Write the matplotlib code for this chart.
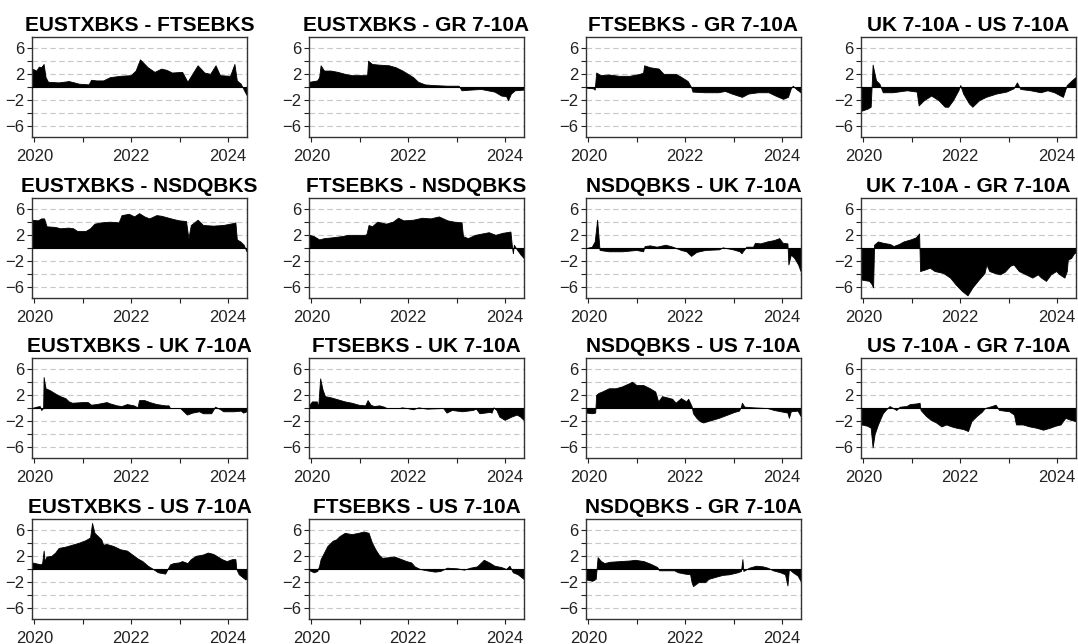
import matplotlib
matplotlib.use("Agg")
import matplotlib.pyplot as plt
import numpy as np

plt.rcParams['font.family'] = ['Liberation Sans', 'DejaVu Sans']

# spread series: (decimal year, value)
eustx_ftse = [(2019.95, 2.8), (2020.04, 2.5), (2020.09, 3.1), (2020.14, 3.0), (2020.19, 3.5), (2020.23, 1.5),
              (2020.28, 0.8), (2020.5, 0.7), (2020.71, 0.9), (2020.82, 0.7), (2020.92, 0.5), (2021.12, 0.4),
              (2021.17, 1.1), (2021.28, 1.0), (2021.42, 1.0), (2021.56, 1.5), (2021.77, 1.7), (2021.99, 1.8),
              (2022.09, 2.5), (2022.18, 4.2), (2022.34, 3.0), (2022.48, 2.3), (2022.62, 2.8), (2022.73, 2.6),
              (2022.84, 2.2), (2023.05, 2.3), (2023.16, 0.8), (2023.26, 2.0), (2023.37, 3.3), (2023.51, 2.2),
              (2023.63, 2.0), (2023.74, 3.3), (2023.83, 1.8), (2024.04, 1.7), (2024.13, 3.5), (2024.18, 1.0),
              (2024.26, 0.5), (2024.33, -0.5), (2024.38, -1.2)]
eustx_gr = [(2019.96, 0.8), (2020.12, 1.0), (2020.16, 1.5), (2020.19, 3.3), (2020.26, 2.5), (2020.4, 2.5),
            (2020.54, 2.3), (2020.69, 2.0), (2020.83, 1.8), (2020.97, 1.8), (2021.15, 1.8), (2021.17, 4.0),
            (2021.25, 3.5), (2021.39, 3.4), (2021.6, 3.3), (2021.74, 3.0), (2021.88, 2.5), (2021.99, 2.0),
            (2022.1, 1.5), (2022.2, 0.8), (2022.34, 0.4), (2022.5, 0.3), (2022.8, 0.2), (2023.04, 0.2),
            (2023.1, -0.5), (2023.28, -0.4), (2023.5, -0.3), (2023.64, -0.5), (2023.78, -0.7), (2023.92, -1.3),
            (2024.02, -1.4), (2024.06, -2.0), (2024.12, -1.0), (2024.2, -0.5), (2024.38, -0.4)]
ftse_gr = [(2019.95, -0.1), (2020.1, -0.2), (2020.13, -0.4), (2020.16, 2.2), (2020.25, 1.8), (2020.42, 1.9),
           (2020.63, 1.7), (2020.85, 1.7), (2021.06, 2.0), (2021.13, 2.2), (2021.15, 3.3), (2021.27, 3.0),
           (2021.45, 2.8), (2021.55, 2.0), (2021.8, 2.0), (2021.9, 1.6), (2022.05, 0.9), (2022.12, 0.0),
           (2022.15, -0.7), (2022.4, -0.8), (2022.68, -0.8), (2022.82, -0.6), (2022.96, -1.0), (2023.17, -1.5),
           (2023.3, -1.0), (2023.5, -0.8), (2023.72, -0.8), (2023.86, -1.3), (2024.02, -1.8), (2024.12, -1.5),
           (2024.18, -0.2), (2024.22, 0.2), (2024.29, -0.3), (2024.38, -0.8)]
uk_us = [(2019.96, -3.6), (2020.08, -3.3), (2020.15, -3.0), (2020.19, 3.4), (2020.26, 1.0), (2020.33, 0.5),
         (2020.4, -0.8), (2020.6, -0.8), (2020.9, -0.5), (2021.1, -0.7), (2021.14, -2.8), (2021.25, -2.0),
         (2021.4, -1.3), (2021.55, -2.0), (2021.68, -3.0), (2021.75, -3.0), (2021.85, -2.0), (2021.96, -0.5),
         (2022.0, 0.3), (2022.06, -1.0), (2022.18, -2.5), (2022.25, -3.0), (2022.39, -2.0), (2022.53, -1.5),
         (2022.74, -1.0), (2022.95, -0.7), (2023.1, -0.2), (2023.17, 0.7), (2023.24, -0.3), (2023.45, -0.5),
         (2023.66, -0.8), (2023.8, -0.5), (2023.94, -0.8), (2024.12, -1.5), (2024.2, 0.3), (2024.3, 1.0),
         (2024.38, 1.5)]
eustx_nsdq = [(2019.95, 4.3), (2020.07, 4.2), (2020.14, 4.5), (2020.2, 4.5), (2020.25, 3.3), (2020.43, 3.2),
              (2020.53, 3.0), (2020.7, 3.1), (2020.8, 3.0), (2020.88, 2.6), (2021.06, 2.6), (2021.15, 3.0),
              (2021.24, 3.7), (2021.38, 3.9), (2021.56, 4.0), (2021.74, 3.9), (2021.8, 5.0), (2021.95, 5.2),
              (2022.06, 4.8), (2022.16, 5.3), (2022.27, 4.8), (2022.37, 4.5), (2022.52, 5.0), (2022.62, 4.9),
              (2022.77, 4.6), (2022.87, 4.4), (2022.99, 4.2), (2023.13, 4.1), (2023.18, 1.5), (2023.23, 3.5),
              (2023.37, 4.3), (2023.48, 3.5), (2023.69, 3.4), (2023.9, 3.5), (2024.11, 3.8), (2024.15, 3.9),
              (2024.18, 1.3), (2024.25, 1.0), (2024.32, 0.5), (2024.38, -0.5)]
ftse_nsdq = [(2019.96, 2.0), (2020.05, 1.8), (2020.16, 1.3), (2020.26, 1.5), (2020.4, 1.6), (2020.62, 1.8),
             (2020.76, 2.0), (2021.11, 2.0), (2021.14, 2.2), (2021.18, 3.5), (2021.25, 3.3), (2021.36, 4.0),
             (2021.54, 3.7), (2021.68, 4.0), (2021.79, 4.6), (2021.9, 4.2), (2022.1, 4.3), (2022.28, 4.6),
             (2022.46, 4.5), (2022.63, 4.8), (2022.81, 4.2), (2022.95, 4.0), (2023.1, 3.9), (2023.13, 1.8),
             (2023.23, 1.5), (2023.38, 2.0), (2023.52, 2.2), (2023.66, 2.4), (2023.8, 2.0), (2023.94, 2.3),
             (2024.11, 2.5), (2024.14, 0.3), (2024.16, -0.8), (2024.18, 0.5), (2024.25, -0.3), (2024.32, -1.0),
             (2024.38, -1.5)]
nsdq_uk = [(2019.96, 0.0), (2020.07, 0.2), (2020.13, 1.0), (2020.18, 4.3), (2020.23, -0.3), (2020.42, -0.5),
           (2020.7, -0.5), (2020.99, -0.3), (2021.13, -0.5), (2021.16, 0.3), (2021.27, 0.4), (2021.41, 0.2),
           (2021.59, 0.5), (2021.74, 0.2), (2021.91, -0.3), (2022.02, -0.5), (2022.12, -1.2), (2022.23, -0.6),
           (2022.41, -0.3), (2022.7, -0.2), (2022.77, 0.1), (2022.98, -0.2), (2023.12, -0.5), (2023.16, -0.8),
           (2023.26, 0.2), (2023.4, 0.2), (2023.44, 0.8), (2023.55, 0.7), (2023.69, 1.0), (2023.83, 1.2),
           (2023.94, 1.5), (2024.01, 0.8), (2024.11, 0.7), (2024.13, -2.5), (2024.18, -1.0), (2024.25, -1.5),
           (2024.33, -2.5), (2024.38, -3.5)]
uk_gr = [(2019.96, -4.8), (2020.12, -5.0), (2020.17, -5.5), (2020.2, -6.0), (2020.22, 0.5), (2020.3, 1.0),
         (2020.4, 0.8), (2020.55, 0.6), (2020.62, 0.3), (2020.73, 0.6), (2020.83, 1.0), (2020.97, 1.3),
         (2021.08, 1.6), (2021.15, 2.2), (2021.17, -3.5), (2021.26, -3.3), (2021.37, -3.0), (2021.47, -3.5),
         (2021.65, -3.8), (2021.79, -4.5), (2021.9, -5.5), (2022.03, -6.5), (2022.15, -7.2), (2022.25, -6.0),
         (2022.36, -5.0), (2022.5, -3.8), (2022.54, -2.5), (2022.6, -3.5), (2022.71, -3.8), (2022.82, -4.0),
         (2022.92, -3.6), (2023.03, -2.7), (2023.1, -2.5), (2023.21, -3.5), (2023.35, -4.0), (2023.49, -4.5),
         (2023.6, -4.0), (2023.67, -4.5), (2023.77, -5.0), (2023.87, -4.0), (2023.98, -3.5), (2024.05, -4.0),
         (2024.15, -4.5), (2024.2, -3.5), (2024.22, -1.8), (2024.29, -1.5), (2024.35, -0.8), (2024.38, -0.7)]
eustx_uk = [(2019.95, 0.0), (2020.04, 0.2), (2020.11, 0.3), (2020.14, -0.3), (2020.18, 0.0), (2020.19, 4.7),
            (2020.23, 3.0), (2020.32, 2.7), (2020.43, 2.2), (2020.53, 1.8), (2020.64, 1.5), (2020.71, 1.0),
            (2020.78, 0.8), (2020.99, 0.9), (2021.1, 0.9), (2021.17, 0.5), (2021.28, 0.6), (2021.49, 0.9),
            (2021.56, 0.7), (2021.7, 0.4), (2021.8, 0.3), (2021.91, 0.6), (2022.05, 0.4), (2022.13, 0.1),
            (2022.16, 1.2), (2022.27, 1.2), (2022.38, 0.9), (2022.52, 0.6), (2022.7, 0.4), (2022.77, 0.4),
            (2022.8, 0.0), (2023.01, 0.0), (2023.05, -0.3), (2023.15, -1.0), (2023.26, -0.7), (2023.4, -0.5),
            (2023.48, -0.8), (2023.65, -0.8), (2023.69, -0.3), (2023.73, 0.2), (2023.84, -0.2), (2023.9, -0.5),
            (2024.11, -0.5), (2024.26, -0.4), (2024.31, -0.7), (2024.38, -0.5)]
ftse_uk = [(2019.96, 0.5), (2020.01, 1.0), (2020.11, 1.0), (2020.14, 0.2), (2020.18, 4.5), (2020.23, 2.8),
           (2020.28, 1.8), (2020.41, 1.6), (2020.55, 1.3), (2020.69, 1.0), (2020.83, 0.8), (2020.97, 0.5),
           (2021.11, 0.4), (2021.16, 1.2), (2021.22, 0.5), (2021.29, 0.3), (2021.4, 0.4), (2021.5, 0.2),
           (2021.55, 0.0), (2021.83, 0.0), (2021.86, 0.1), (2021.97, 0.0), (2022.1, -0.2), (2022.21, 0.1),
           (2022.38, -0.1), (2022.72, 0.0), (2022.79, -0.7), (2022.9, -0.3), (2023.11, -0.5), (2023.33, -0.3),
           (2023.4, -0.1), (2023.47, -0.8), (2023.68, -0.6), (2023.72, -0.7), (2023.76, 0.1), (2023.82, -0.3),
           (2023.88, -1.3), (2023.99, -1.8), (2024.13, -1.3), (2024.24, -1.0), (2024.31, -1.3), (2024.38, -1.8)]
nsdq_us = [(2019.96, -0.7), (2020.07, -0.8), (2020.14, -0.7), (2020.16, 2.0), (2020.21, 2.3), (2020.28, 2.5),
           (2020.42, 3.0), (2020.56, 3.0), (2020.7, 3.3), (2020.85, 3.8), (2020.9, 4.0), (2020.99, 3.5),
           (2021.13, 3.5), (2021.27, 3.0), (2021.38, 2.5), (2021.44, 1.0), (2021.52, 1.8), (2021.63, 1.6),
           (2021.73, 1.4), (2021.8, 0.8), (2021.91, 1.5), (2022.02, 1.0), (2022.06, 1.4), (2022.13, 0.3),
           (2022.16, -0.8), (2022.23, -1.5), (2022.3, -2.0), (2022.37, -2.2), (2022.55, -1.8), (2022.69, -1.5),
           (2022.87, -1.0), (2023.01, -0.6), (2023.11, -0.4), (2023.15, 0.2), (2023.17, 0.8), (2023.22, 0.2),
           (2023.4, 0.1), (2023.69, 0.0), (2023.83, -0.3), (2023.97, -0.5), (2024.11, -0.7), (2024.14, -1.5),
           (2024.18, -0.5), (2024.32, -0.4), (2024.38, -1.2)]
us_gr = [(2019.96, -2.5), (2020.08, -2.7), (2020.15, -3.0), (2020.19, -6.0), (2020.23, -4.0), (2020.3, -2.5),
         (2020.37, -1.3), (2020.4, -0.8), (2020.47, -0.2), (2020.54, 0.3), (2020.61, 0.0), (2020.68, -0.3),
         (2020.75, 0.2), (2020.89, 0.3), (2020.96, 0.6), (2021.1, 0.7), (2021.16, 0.8), (2021.18, -0.3),
         (2021.29, -1.2), (2021.39, -1.8), (2021.5, -2.2), (2021.61, -2.8), (2021.71, -2.5), (2021.82, -2.8),
         (2021.92, -3.0), (2022.06, -3.2), (2022.16, -3.5), (2022.23, -2.0), (2022.34, -1.2), (2022.44, -0.6),
         (2022.51, 0.0), (2022.65, 0.3), (2022.73, 0.5), (2022.8, -0.3), (2023.01, -0.5), (2023.11, -1.0),
         (2023.15, -2.5), (2023.29, -2.5), (2023.43, -2.8), (2023.57, -3.0), (2023.71, -3.3), (2023.85, -3.0),
         (2023.96, -2.7), (2024.07, -2.5), (2024.17, -1.5), (2024.28, -1.8), (2024.38, -2.0)]
eustx_us = [(2019.95, 1.0), (2020.07, 0.8), (2020.13, 0.7), (2020.16, 0.9), (2020.19, 2.8), (2020.21, 1.2),
            (2020.25, 1.9), (2020.35, 2.0), (2020.43, 2.5), (2020.5, 3.2), (2020.64, 3.4), (2020.78, 3.7),
            (2020.92, 4.0), (2021.06, 4.4), (2021.15, 4.8), (2021.19, 7.0), (2021.24, 5.5), (2021.31, 5.0),
            (2021.38, 4.5), (2021.42, 3.7), (2021.49, 3.8), (2021.63, 3.5), (2021.77, 3.0), (2021.91, 2.8),
            (2022.02, 2.2), (2022.13, 1.6), (2022.23, 1.2), (2022.34, 0.5), (2022.45, 0.0), (2022.55, -0.5),
            (2022.7, -0.7), (2022.75, 0.0), (2022.8, 0.7), (2022.87, 0.9), (2022.98, 1.0), (2023.05, 1.2),
            (2023.16, 0.9), (2023.23, 1.5), (2023.33, 2.0), (2023.48, 2.2), (2023.58, 2.5), (2023.69, 2.3),
            (2023.76, 2.0), (2023.87, 1.5), (2023.97, 1.2), (2024.08, 1.5), (2024.15, 1.5), (2024.17, 0.0),
            (2024.22, -0.8), (2024.29, -1.2), (2024.36, -1.6), (2024.38, -1.4)]
ftse_us = [(2019.96, -0.2), (2020.05, -0.5), (2020.12, -0.3), (2020.16, 0.5), (2020.19, 1.5), (2020.26, 2.5),
           (2020.33, 3.5), (2020.44, 4.3), (2020.51, 4.5), (2020.58, 5.0), (2020.69, 5.5), (2020.83, 5.3),
           (2020.97, 5.5), (2021.08, 5.7), (2021.18, 5.5), (2021.25, 4.0), (2021.32, 3.0), (2021.39, 2.2),
           (2021.46, 1.7), (2021.6, 1.8), (2021.71, 1.9), (2021.82, 1.6), (2021.96, 1.2), (2022.06, 1.0),
           (2022.13, 0.4), (2022.24, 0.0), (2022.38, -0.2), (2022.55, -0.4), (2022.66, -0.3), (2022.8, 0.2),
           (2023.01, 0.1), (2023.15, -0.1), (2023.28, 0.2), (2023.42, 0.4), (2023.56, 1.4), (2023.67, 1.0),
           (2023.78, 0.5), (2023.92, 0.3), (2024.02, 0.0), (2024.09, 0.5), (2024.16, -0.5), (2024.26, -0.8),
           (2024.38, -1.5)]
nsdq_gr = [(2019.96, -1.6), (2020.08, -1.8), (2020.15, -1.5), (2020.19, 1.8), (2020.26, 1.2), (2020.33, 0.9),
           (2020.44, 1.1), (2020.65, 1.2), (2020.86, 1.3), (2020.96, 1.4), (2021.14, 1.2), (2021.28, 0.8),
           (2021.42, 0.3), (2021.46, -0.2), (2021.77, -0.2), (2021.85, -0.5), (2021.99, -0.7), (2022.1, -0.8),
           (2022.13, -2.0), (2022.16, -2.6), (2022.27, -2.0), (2022.41, -2.0), (2022.48, -1.5), (2022.62, -1.2),
           (2022.77, -0.9), (2022.91, -0.8), (2023.08, -0.5), (2023.15, -0.3), (2023.18, 1.5), (2023.2, -0.3),
           (2023.32, 0.2), (2023.46, 0.5), (2023.6, 0.4), (2023.7, 0.2), (2023.81, -0.2), (2023.96, -0.5),
           (2024.06, -0.8), (2024.11, -2.5), (2024.14, 0.0), (2024.22, -0.5), (2024.32, -1.0), (2024.38, -1.8)]

titles = ['EUSTXBKS - FTSEBKS', 'EUSTXBKS - GR 7-10A', 'FTSEBKS - GR 7-10A', 'UK 7-10A - US 7-10A',
          'EUSTXBKS - NSDQBKS', 'FTSEBKS - NSDQBKS', 'NSDQBKS - UK 7-10A', 'UK 7-10A - GR 7-10A',
          'EUSTXBKS - UK 7-10A', 'FTSEBKS - UK 7-10A', 'NSDQBKS - US 7-10A', 'US 7-10A - GR 7-10A',
          'EUSTXBKS - US 7-10A', 'FTSEBKS - US 7-10A', 'NSDQBKS - GR 7-10A']
series = [eustx_ftse, eustx_gr, ftse_gr, uk_us,
          eustx_nsdq, ftse_nsdq, nsdq_uk, uk_gr,
          eustx_uk, ftse_uk, nsdq_us, us_gr,
          eustx_us, ftse_us, nsdq_gr]

W, H = 1078, 644
fig = plt.figure(figsize=(W / 100, H / 100), dpi=100)

col_left = [32, 309, 586, 861]
row_top = [37, 198, 358, 519]
pw, ph = 215, 100

for i, (title, pts) in enumerate(zip(titles, series)):
    r, c = divmod(i, 4)
    ax = fig.add_axes([col_left[c] / W, 1 - (row_top[r] + ph) / H, pw / W, ph / H])
    x = np.array([p[0] for p in pts])
    y = np.array([p[1] for p in pts])

    for g in [-6, -4, -2, 0, 2, 4, 6]:
        ax.axhline(g, color='#c8c8c8', lw=0.8, ls=(0, (5, 3)), zorder=1)
    ax.fill_between(x, 0, y, color='black', lw=0.6, edgecolor='black', zorder=2)
    ax.axhline(0, color='black', lw=0.8, zorder=3)

    ax.set_xlim(2019.95, 2024.39)
    ax.set_ylim(-7.6, 7.6)
    ax.set_xticks([2020, 2022, 2024])
    ax.set_xticklabels(['2020', '2022', '2024'])
    ax.set_xticks([2021, 2023], minor=True)
    ax.set_yticks([6, 2, -2, -6])
    ax.set_yticks([4, 0, -4], minor=True)
    ax.tick_params(which='both', direction='out', length=3.5, width=0.8, colors='#222222',
                   labelsize=12, pad=2)
    ax.tick_params(axis='x', pad=5)
    for s in ax.spines.values():
        s.set_color('#333333')
        s.set_linewidth(1.0)
    ax.set_title(title, fontsize=15, fontweight='bold', pad=4)

fig.savefig('out.png', dpi=100)
